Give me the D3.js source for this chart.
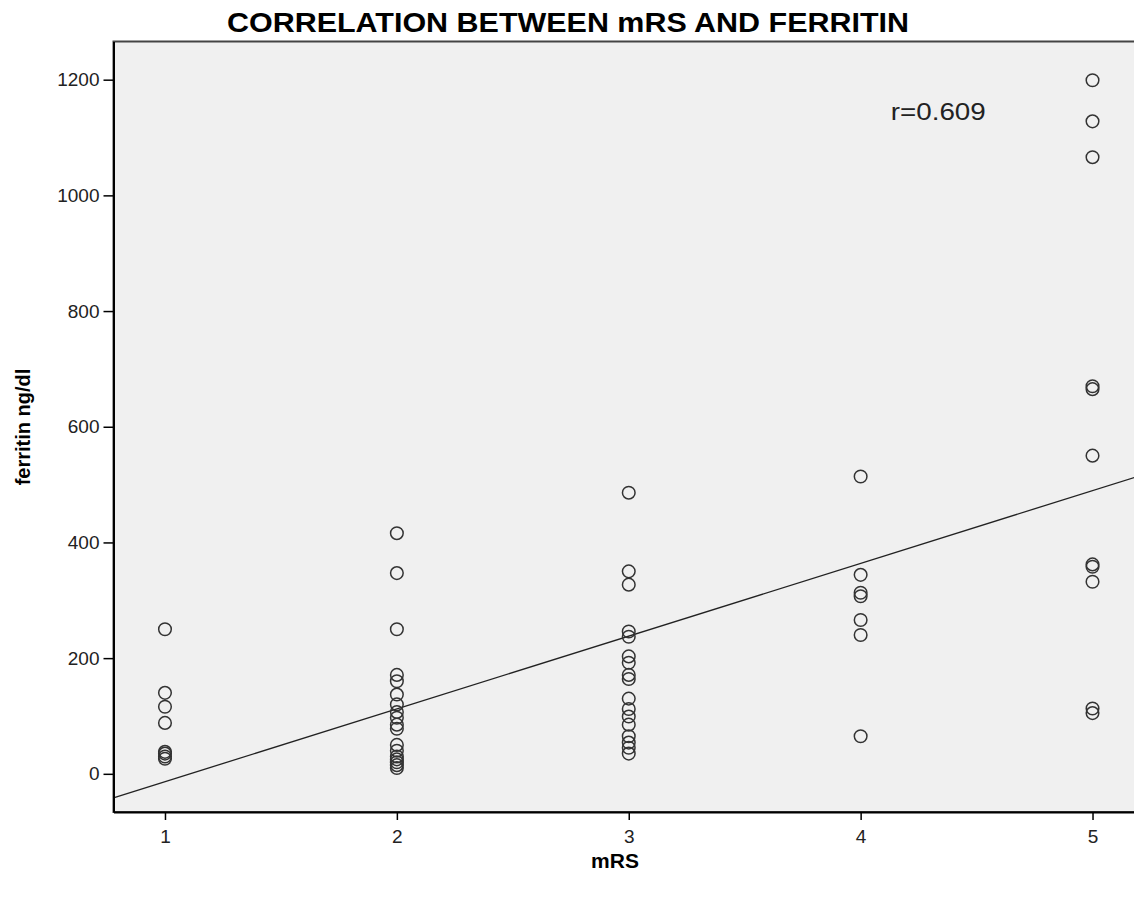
<!DOCTYPE html>
<html>
<head>
<meta charset="utf-8">
<script src="https://cdn.jsdelivr.net/npm/d3@7"></script>
<style>
  body { margin: 0; background: #fff; }
  text { font-family: "Liberation Sans", Arial, sans-serif; }
</style>
</head>
<body>
<div id="chart"></div>
<script>
// ferritin values (ng/dl), one array per mRS score
const mrs1 = [250, 140, 116, 88, 38, 35, 30, 26];
const mrs2 = [416, 347, 250, 171, 160, 137, 120, 107, 97, 85, 78, 50, 40, 30, 25, 20, 15, 10];
const mrs3 = [486, 350, 327, 246, 237, 203, 192, 171, 164, 130, 112, 99, 85, 65, 54, 45, 35];
const mrs4 = [514, 344, 313, 307, 266, 240, 65];
const mrs5 = [1199, 1128, 1066, 670, 665, 550, 362, 358, 332, 113, 105];

const xTicks = [1, 2, 3, 4, 5];
const yTicks = [0, 200, 400, 600, 800, 1000, 1200];

// fit line y = a + b*x
const fitIntercept = -139.4;
const fitSlope = 125.8;
const rLabel = 'r=0.609';

const points = [];
[mrs1, mrs2, mrs3, mrs4, mrs5].forEach((vals, i) => {
    vals.forEach(v => points.push({ x: i + 1, y: v }));
});

const width = 1134, height = 898;
const plotLeft = 113.5, plotTop = 41.5, plotBottom = 812, plotRight = 1144;

const svg = d3.select('#chart')
              .append('svg')
              .attr('width', width)
              .attr('height', height);

const x = d3.scaleLinear().domain([0.778, 5.222]).range([plotLeft, plotRight]);
const y = d3.scaleLinear().domain([-66, 1266]).range([plotBottom, plotTop]);

// plot background
svg.append('rect')
   .attr('x', plotLeft).attr('y', plotTop)
   .attr('width', plotRight - plotLeft).attr('height', plotBottom - plotTop)
   .attr('fill', '#f0f0f0')
   .attr('stroke', '#444')
   .attr('stroke-width', 2);

// fit line
svg.append('clipPath').attr('id', 'plotclip')
   .append('rect')
   .attr('x', plotLeft).attr('y', plotTop)
   .attr('width', plotRight - plotLeft).attr('height', plotBottom - plotTop);

svg.append('line')
   .attr('clip-path', 'url(#plotclip)')
   .attr('x1', x(0.778)).attr('y1', y(fitIntercept + fitSlope * 0.778))
   .attr('x2', x(5.222)).attr('y2', y(fitIntercept + fitSlope * 5.222))
   .attr('stroke', '#222')
   .attr('stroke-width', 1.3);

// points
svg.append('g')
   .selectAll('circle')
   .data(points)
   .enter().append('circle')
   .attr('cx', d => x(d.x))
   .attr('cy', d => y(d.y))
   .attr('r', 6.3)
   .attr('fill', 'none')
   .attr('stroke', '#333')
   .attr('stroke-width', 1.5);

// axes
const xAxis = svg.append('g')
   .attr('transform', `translate(0,${plotBottom})`)
   .call(d3.axisBottom(x).tickValues(xTicks).tickSize(8).tickSizeOuter(0)
           .tickPadding(10).tickFormat(d3.format('d')));
const yAxis = svg.append('g')
   .attr('transform', `translate(${plotLeft},0)`)
   .call(d3.axisLeft(y).tickValues(yTicks).tickSize(10).tickSizeOuter(0)
           .tickPadding(4).tickFormat(d3.format('d')));

[xAxis, yAxis].forEach(a => {
    a.select('.domain').attr('stroke', '#000').attr('stroke-width', 2);
    a.selectAll('.tick line').attr('stroke', '#000').attr('stroke-width', 1.5);
    a.selectAll('.tick text')
     .attr('fill', '#222')
     .style('font-family', '"Liberation Sans", Arial, sans-serif')
     .style('font-size', '19px');
});

// title and labels
svg.append('text')
   .attr('x', 568).attr('y', 32)
   .attr('text-anchor', 'middle')
   .attr('textLength', 682)
   .attr('lengthAdjust', 'spacingAndGlyphs')
   .style('font-size', '27px')
   .style('font-weight', 'bold')
   .text('CORRELATION BETWEEN mRS AND FERRITIN');

svg.append('text')
   .attr('transform', 'translate(30,427) rotate(-90)')
   .attr('text-anchor', 'middle')
   .style('font-size', '20px')
   .style('font-weight', 'bold')
   .text('ferritin ng/dl');

svg.append('text')
   .attr('x', 615).attr('y', 868)
   .attr('text-anchor', 'middle')
   .style('font-size', '21px')
   .style('font-weight', 'bold')
   .text('mRS');

svg.append('text')
   .attr('x', x(4.13)).attr('y', y(1130))
   .attr('textLength', 95)
   .attr('lengthAdjust', 'spacingAndGlyphs')
   .style('font-size', '23px')
   .attr('fill', '#222')
   .text(rLabel);
</script>
</body>
</html>
